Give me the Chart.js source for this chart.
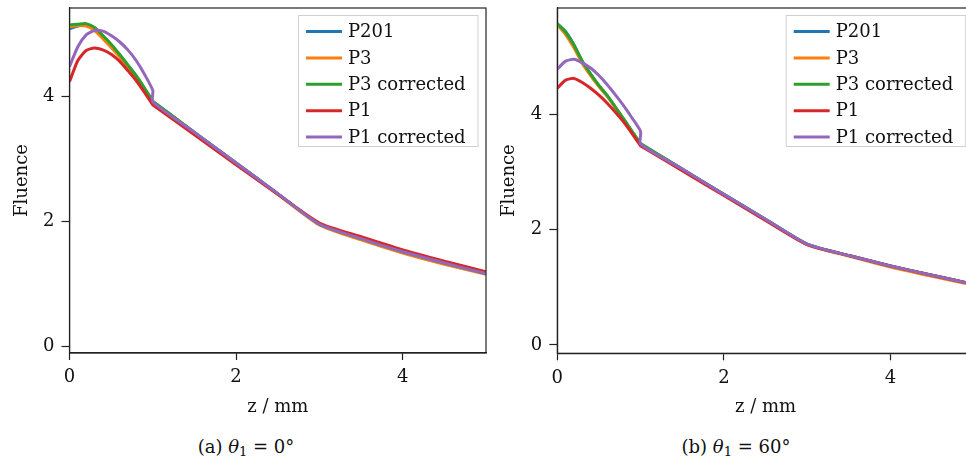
<!DOCTYPE html>
<html>
<head>
<meta charset="utf-8">
<script src="https://cdn.jsdelivr.net/npm/chart.js@4.4.1/dist/chart.umd.min.js"></script>
<style>
  body { margin: 0; width: 966px; height: 464px; overflow: hidden; background: #fff; position: relative; font-family: "DejaVu Serif", serif; color: #111; }
  canvas { position: absolute; top: 0; }
  #leftChart { left: 0; }
  #rightChart { left: 490px; }
  .caption { position: absolute; top: 436px; font-size: 18px; line-height: 22px; transform: translateX(-50%); white-space: nowrap; }
  .caption sub { font-size: 13px; vertical-align: -3px; line-height: 0; }
</style>
</head>
<body>
<canvas id="leftChart" width="500" height="419"></canvas>
<canvas id="rightChart" width="500" height="419"></canvas>
<div class="caption" style="left:246px">(a) <i>θ</i><sub>1</sub> = 0°</div>
<div class="caption" style="left:736px">(b) <i>θ</i><sub>1</sub> = 60°</div>
<script>
// depth grid (z = 1 appears twice: the corrected P1 curve jumps there)
const zValues = [0, 0.1, 0.2, 0.3, 0.4, 0.5, 0.6, 0.7, 0.8, 0.9, 1, 1, 1.5, 2, 2.5, 3, 3.5, 4, 4.5, 5];
const seriesLabels = ["P201", "P3", "P3 corrected", "P1", "P1 corrected"];
const xTicks = [0, 2, 4];
const yTicks = [0, 2, 4];

// theta_1 = 0 deg
const a_P201 = [5.09, 5.13, 5.15, 5.10, 4.97, 4.83, 4.67, 4.50, 4.33, 4.13, 3.92, 3.92, 3.43, 2.94, 2.45, 1.96, 1.73, 1.52, 1.34, 1.17];
const a_P3 = [5.12, 5.14, 5.13, 5.06, 4.93, 4.79, 4.64, 4.48, 4.31, 4.12, 3.91, 3.91, 3.42, 2.93, 2.44, 1.95, 1.71, 1.50, 1.32, 1.16];
const a_P3c = [5.15, 5.16, 5.17, 5.11, 4.98, 4.84, 4.68, 4.51, 4.34, 4.14, 3.93, 3.93, 3.43, 2.94, 2.45, 1.96, 1.73, 1.52, 1.34, 1.17];
const a_P1 = [4.24, 4.58, 4.74, 4.78, 4.75, 4.68, 4.57, 4.42, 4.26, 4.07, 3.87, 3.87, 3.39, 2.91, 2.44, 1.98, 1.76, 1.55, 1.37, 1.20];
const a_P1c = [4.48, 4.80, 4.99, 5.06, 5.05, 4.98, 4.88, 4.75, 4.58, 4.36, 4.10, 3.92, 3.43, 2.94, 2.45, 1.96, 1.73, 1.52, 1.34, 1.17];

// theta_1 = 60 deg
const b_P201 = [5.56, 5.43, 5.20, 4.91, 4.69, 4.49, 4.32, 4.11, 3.90, 3.69, 3.48, 3.48, 3.05, 2.61, 2.18, 1.75, 1.55, 1.37, 1.21, 1.05];
const b_P3 = [5.55, 5.38, 5.15, 4.88, 4.67, 4.48, 4.31, 4.11, 3.90, 3.69, 3.48, 3.48, 3.04, 2.60, 2.17, 1.74, 1.54, 1.35, 1.19, 1.04];
const b_P3c = [5.57, 5.42, 5.20, 4.92, 4.70, 4.50, 4.32, 4.12, 3.91, 3.70, 3.49, 3.49, 3.05, 2.61, 2.18, 1.75, 1.55, 1.37, 1.21, 1.05];
const b_P1 = [4.45, 4.59, 4.62, 4.55, 4.45, 4.33, 4.19, 4.03, 3.86, 3.66, 3.45, 3.45, 3.02, 2.59, 2.16, 1.74, 1.55, 1.37, 1.21, 1.05];
const b_P1c = [4.78, 4.92, 4.95, 4.89, 4.80, 4.67, 4.51, 4.33, 4.14, 3.93, 3.70, 3.48, 3.05, 2.61, 2.18, 1.75, 1.55, 1.37, 1.21, 1.05];

const COLORS = ["#1f77b4", "#ff7f0e", "#2ca02c", "#d62728", "#9467bd"];
const FONT = "'DejaVu Serif', serif";
const AXIS = "#222";

// box around the axes + legend inside the top right corner
const framePlugin = {
  id: "frame",
  afterDraw(chart) {
    const { ctx, chartArea: a } = chart;
    ctx.save();
    ctx.strokeStyle = AXIS;
    ctx.lineWidth = 1.2;
    ctx.strokeRect(a.left, a.top, a.right - a.left, a.bottom - a.top);

    const bx = a.right - 188, by = a.top + 7, bw = 179.5, bh = 131;
    ctx.fillStyle = "rgba(255,255,255,0.8)";
    ctx.fillRect(bx, by, bw, bh);
    ctx.strokeStyle = "#d0d0d0";
    ctx.lineWidth = 1;
    ctx.strokeRect(bx + 0.5, by + 0.5, bw, bh);

    ctx.font = "18px " + FONT;
    ctx.textBaseline = "middle";
    ctx.lineWidth = 3;
    chart.data.datasets.forEach((ds, i) => {
      const y = by + 16.5 + i * 26.4;
      ctx.strokeStyle = ds.borderColor;
      ctx.beginPath();
      ctx.moveTo(bx + 8, y);
      ctx.lineTo(bx + 44, y);
      ctx.stroke();
      ctx.fillStyle = "#111";
      ctx.fillText(ds.label, bx + 50, y + 1);
    });
    ctx.restore();
  },
};

function makeChart(id, seriesList, yMin, yMax, yWidth, yTitlePad, padRight, xHeight) {
  const datasets = seriesList.map((vals, i) => ({
    label: seriesLabels[i],
    data: zValues.map((z, k) => ({ x: z, y: vals[k] })),
    borderColor: COLORS[i],
    borderWidth: 3,
    pointRadius: 0,
    tension: 0.2,
    order: seriesList.length - i,
  }));

  return new Chart(document.getElementById(id), {
    type: "line",
    data: { datasets },
    options: {
      responsive: false,
      animation: false,
      layout: { padding: { top: 8, right: padRight, left: 0, bottom: 0 } },
      plugins: { legend: { display: false }, tooltip: { enabled: false } },
      scales: {
        x: {
          type: "linear",
          min: 0,
          max: 5,
          afterBuildTicks: (s) => { s.ticks = xTicks.map((v) => ({ value: v })); },
          afterFit: (s) => { s.height = xHeight; s.paddingLeft = 0; s.paddingRight = 0; },
          grid: { drawOnChartArea: false, tickLength: 7, color: AXIS, tickWidth: 1.2 },
          border: { color: AXIS, width: 1.2 },
          ticks: { padding: 7, color: "#111", maxRotation: 0, font: { family: FONT, size: 18 } },
          title: { display: true, text: "z / mm", color: "#111", padding: { top: 0, bottom: 1 }, font: { family: FONT, size: 18 } },
        },
        y: {
          min: yMin,
          max: yMax,
          afterBuildTicks: (s) => { s.ticks = yTicks.map((v) => ({ value: v })); },
          afterFit: (s) => { s.width = yWidth; s.paddingTop = 0; s.paddingBottom = 0; },
          grid: { drawOnChartArea: false, tickLength: 8, color: AXIS, tickWidth: 1.2 },
          border: { color: AXIS, width: 1.2 },
          ticks: { padding: 7, color: "#111", font: { family: FONT, size: 18 } },
          title: { display: true, text: "Fluence", color: "#111", padding: { top: yTitlePad, bottom: 0 }, font: { family: FONT, size: 18 } },
        },
      },
    },
    plugins: [framePlugin],
  });
}

makeChart("leftChart", [a_P201, a_P3, a_P3c, a_P1, a_P1c], -0.1, 5.42, 69.5, 11.2, 14, 66);
makeChart("rightChart", [b_P201, b_P3, b_P3c, b_P1, b_P1c], -0.144, 5.84, 67.3, 8.2, 16.3, 65.7);
</script>
</body>
</html>
